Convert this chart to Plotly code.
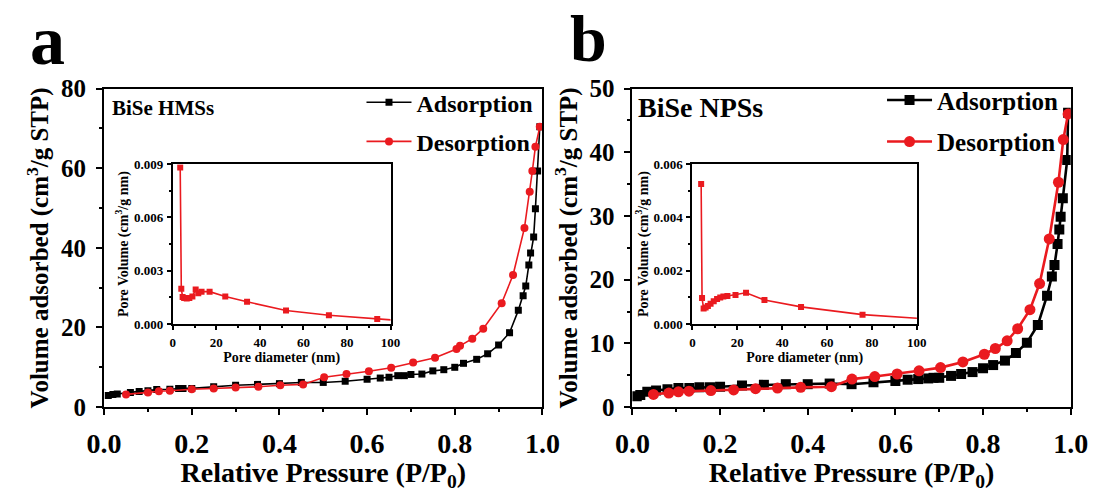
import plotly.graph_objects as go

# ---------------- data ----------------
# Panel a : BiSe HMSs isotherm
a_ads_p = [0.0095, 0.02, 0.03, 0.06, 0.08, 0.10, 0.12, 0.15, 0.17, 0.18, 0.20, 0.25, 0.30, 0.35, 0.40,
           0.45, 0.50, 0.55, 0.60, 0.63, 0.65, 0.67, 0.685, 0.70, 0.725, 0.75, 0.775, 0.80, 0.82, 0.85,
           0.875, 0.90, 0.925, 0.945, 0.956, 0.962, 0.969, 0.973, 0.98, 0.984, 0.989, 0.994]
a_ads_v = [2.9, 3.2, 3.3, 3.7, 3.9, 4.1, 4.4, 4.5, 4.7, 4.7, 4.7, 5.1, 5.5, 5.7, 5.9,
           6.2, 6.2, 6.5, 7.0, 7.3, 7.5, 7.9, 7.9, 8.2, 8.3, 9.1, 9.4, 10.0, 11.0, 12.0,
           13.4, 15.6, 18.7, 24.3, 28.0, 30.4, 35.7, 38.7, 42.7, 49.8, 59.3, 70.4]
a_des_p = [0.994, 0.984, 0.977, 0.971, 0.959, 0.933, 0.907, 0.865, 0.84, 0.812, 0.804, 0.755, 0.705,
           0.655, 0.604, 0.553, 0.502, 0.454, 0.402, 0.352, 0.30, 0.25, 0.20, 0.15, 0.125, 0.10, 0.05]
a_des_v = [70.4, 65.4, 59.3, 54.1, 45.0, 33.2, 26.1, 19.7, 17.2, 15.4, 14.6, 12.4, 11.2,
           9.9, 9.0, 8.3, 7.5, 5.7, 5.5, 5.1, 4.9, 4.7, 4.5, 4.1, 4.0, 3.7, 3.2]

# Panel a inset : pore size distribution
a_pore_d = [3.4, 3.9, 4.5, 5.2, 6.4, 7.6, 9.0, 10.5, 11.7, 13.2, 16.9, 24.1, 34.1, 52.0, 71.7, 93.9, 108]
a_pore_v = [0.00882, 0.00199, 0.00152, 0.00146, 0.00143, 0.00146, 0.00155, 0.00194, 0.00173, 0.00182,
            0.00182, 0.00155, 0.00125, 0.00076, 0.00049, 0.00028, 0.00016]

# Panel b : BiSe NPSs isotherm
b_ads_p = [0.01, 0.018, 0.034, 0.054, 0.08, 0.105, 0.13, 0.153, 0.177, 0.20, 0.25, 0.30, 0.35, 0.40,
           0.45, 0.50, 0.55, 0.60, 0.628, 0.652, 0.675, 0.687, 0.70, 0.727, 0.75, 0.776, 0.80, 0.823,
           0.85, 0.875, 0.90, 0.925, 0.946, 0.957, 0.963, 0.97, 0.974, 0.977, 0.982, 0.992, 0.994]
b_ads_v = [1.7, 1.9, 2.4, 2.6, 2.8, 3.0, 3.0, 3.1, 3.1, 3.2, 3.4, 3.5, 3.6, 3.6,
           3.7, 3.6, 3.9, 4.1, 4.3, 4.4, 4.5, 4.6, 4.6, 4.9, 5.2, 5.5, 6.1, 6.6,
           7.3, 8.5, 10.1, 12.9, 17.5, 20.5, 22.3, 25.6, 27.9, 29.9, 32.8, 38.8, 46.2]
b_des_p = [0.994, 0.983, 0.972, 0.951, 0.929, 0.907, 0.879, 0.855, 0.828, 0.803, 0.754, 0.703, 0.654,
           0.604, 0.553, 0.501, 0.454, 0.384, 0.331, 0.281, 0.231, 0.179, 0.129, 0.105, 0.083, 0.048]
b_des_v = [46.0, 42.0, 35.3, 26.4, 19.4, 15.3, 12.3, 10.4, 9.2, 8.3, 7.1, 6.2, 5.7,
           5.2, 4.8, 4.4, 3.2, 3.1, 3.0, 2.9, 2.7, 2.6, 2.5, 2.4, 2.2, 2.0]

# Panel b inset : pore size distribution
b_pore_d = [3.9, 4.3, 5.0, 5.9, 6.9, 8.1, 9.5, 11.0, 12.4, 13.8, 15.6, 19.2, 23.9, 32.1, 48.4, 75.8, 108]
b_pore_v = [0.00526, 0.00097, 0.00058, 0.00062, 0.00067, 0.00076, 0.00085, 0.00094, 0.00099, 0.00103,
            0.00105, 0.00109, 0.00117, 0.00090, 0.00064, 0.00035, 0.00017]

panel_labels = ["a", "b"]
sample_names = ["BiSe HMSs", "BiSe NPSs"]

# ---------------- style ----------------
FONT = "Liberation Serif"
BLACK = "#000000"
RED = "#ea1a1f"
W, H = 1110, 492

def px_x(v):
    return v / W

def px_y(v):
    return 1 - v / H

fig = go.Figure()

# Panel a traces
fig.add_trace(go.Scatter(x=a_ads_p, y=a_ads_v, name="Adsorption", mode="lines+markers",
                         line=dict(color=BLACK, width=1.6), marker=dict(symbol="square", size=7, color=BLACK),
                         xaxis="x", yaxis="y", legend="legend", legendgroup="a1"))
fig.add_trace(go.Scatter(x=a_des_p, y=a_des_v, name="Desorption", mode="lines+markers",
                         line=dict(color=RED, width=1.6), marker=dict(symbol="circle", size=8, color=RED),
                         xaxis="x", yaxis="y", legend="legend", legendgroup="a2"))
# Panel b traces
fig.add_trace(go.Scatter(x=b_ads_p, y=b_ads_v, name="Adsorption", mode="lines+markers",
                         line=dict(color=BLACK, width=2.6), marker=dict(symbol="square", size=10, color=BLACK),
                         xaxis="x2", yaxis="y2", legend="legend2", legendgroup="b1"))
fig.add_trace(go.Scatter(x=b_des_p, y=b_des_v, name="Desorption", mode="lines+markers",
                         line=dict(color=RED, width=2.6), marker=dict(symbol="circle", size=11, color=RED),
                         xaxis="x2", yaxis="y2", legend="legend2", legendgroup="b2"))
# Insets
fig.add_trace(go.Scatter(x=a_pore_d, y=a_pore_v, mode="lines+markers", showlegend=False,
                         line=dict(color=RED, width=1.6), marker=dict(symbol="square", size=6, color=RED),
                         xaxis="x3", yaxis="y3"))
fig.add_trace(go.Scatter(x=b_pore_d, y=b_pore_v, mode="lines+markers", showlegend=False,
                         line=dict(color=RED, width=1.6), marker=dict(symbol="square", size=6, color=RED),
                         xaxis="x4", yaxis="y4"))

xtick_font = dict(family=FONT, size=28, color=BLACK, weight="bold")
ytick_font = dict(family=FONT, size=25, color=BLACK, weight="bold")
xtitle_font = dict(family=FONT, size=28, color=BLACK, weight="bold")
ytitle_font = dict(family=FONT, size=25, color=BLACK, weight="bold")
inset_tick = dict(family=FONT, size=13, color=BLACK, weight="bold")
inset_title = dict(family=FONT, size=14, color=BLACK, weight="bold")

def ax(domain, anchor, rng, dtick, minor_dtick, tickfont, title, titlefont, standoff, ticklen,
       tickformat, labelgap):
    return dict(domain=domain, anchor=anchor, range=rng, dtick=dtick, tick0=0, tickformat=tickformat,
                showline=True, linecolor=BLACK, linewidth=2, mirror=True, ticks="outside",
                ticklen=ticklen, tickwidth=2, tickcolor=BLACK, showgrid=False, zeroline=False,
                ticklabelstandoff=labelgap,
                minor=dict(dtick=minor_dtick, ticks="outside", ticklen=ticklen * 0.55, tickwidth=1.5,
                           tickcolor=BLACK, showgrid=False),
                tickfont=tickfont, title=dict(text=title, font=titlefont, standoff=standoff))

main_xd_a = [px_x(89), px_x(542)]
main_xd_b = [px_x(635), px_x(1088)]
main_yd = [px_y(417), px_y(80)]
ins_xd_a = [px_x(160), px_x(385)]
ins_xd_b = [px_x(697), px_x(929)]
ins_yd = [px_y(329), px_y(160)]

xtitle = "Relative Pressure (P/P<sub>0</sub>)"
ytitle = "Volume adsorbed (cm<sup>3</sup>/g STP)"
itx = "Pore diameter (nm)"
ity = "Pore Volume (cm<sup>3</sup>/g nm)"

fig.update_layout(
    width=W, height=H, margin=dict(l=0, r=0, t=0, b=0),
    paper_bgcolor="white", plot_bgcolor="white",
    font=dict(family=FONT, color=BLACK),
    xaxis=ax(main_xd_a, "y", [0, 1.0], 0.2, 0.1, xtick_font, xtitle, xtitle_font, 4, 6, ".1f", 4),
    yaxis=ax(main_yd, "x", [0, 80], 20, 10, ytick_font, ytitle, ytitle_font, 5, 6, "d", 5),
    xaxis2=ax(main_xd_b, "y2", [0, 1.0], 0.2, 0.1, xtick_font, xtitle, xtitle_font, 4, 6, ".1f", 4),
    yaxis2=ax(main_yd, "x2", [0, 50], 10, 5, ytick_font, ytitle, ytitle_font, 5, 6, "d", 5),
    xaxis3=ax(ins_xd_a, "y3", [0, 100], 20, 10, inset_tick, itx, inset_title, 1, 4, "d", 1),
    yaxis3=ax(ins_yd, "x3", [0, 0.009], 0.003, 0.0015, inset_tick, ity, inset_title, 2, 4, ".3f", 1),
    xaxis4=ax(ins_xd_b, "y4", [0, 100], 20, 10, inset_tick, itx, inset_title, 1, 4, "d", 1),
    yaxis4=ax(ins_yd, "x4", [0, 0.006], 0.002, 0.001, inset_tick, ity, inset_title, 2, 4, ".3f", 1),
    legend=dict(x=px_x(355), y=px_y(71), xanchor="left", yanchor="top", bgcolor="rgba(0,0,0,0)",
                font=dict(family=FONT, size=24, color=BLACK, weight="bold"), itemwidth=45,
                tracegroupgap=5, traceorder="grouped"),
    legend2=dict(x=px_x(893), y=px_y(68), xanchor="left", yanchor="top", bgcolor="rgba(0,0,0,0)",
                 font=dict(family=FONT, size=25, color=BLACK, weight="bold"), itemwidth=45,
                 tracegroupgap=6, traceorder="grouped"),
)

# Panel letters and sample names
fig.add_annotation(text=panel_labels[0], x=px_x(30), y=px_y(29), xref="paper", yref="paper",
                   showarrow=False, xanchor="center", yanchor="middle",
                   font=dict(family=FONT, size=70, color=BLACK, weight="bold"))
fig.add_annotation(text=panel_labels[1], x=px_x(590), y=px_y(27), xref="paper", yref="paper",
                   showarrow=False, xanchor="center", yanchor="middle",
                   font=dict(family=FONT, size=66, color=BLACK, weight="bold"))
fig.add_annotation(text=sample_names[0], x=px_x(95), y=px_y(100), xref="paper", yref="paper",
                   showarrow=False, xanchor="left", yanchor="middle",
                   font=dict(family=FONT, size=21, color=BLACK, weight="bold"))
fig.add_annotation(text=sample_names[1], x=px_x(639), y=px_y(100), xref="paper", yref="paper",
                   showarrow=False, xanchor="left", yanchor="middle",
                   font=dict(family=FONT, size=28, color=BLACK, weight="bold"))

fig.write_html("out.html")
